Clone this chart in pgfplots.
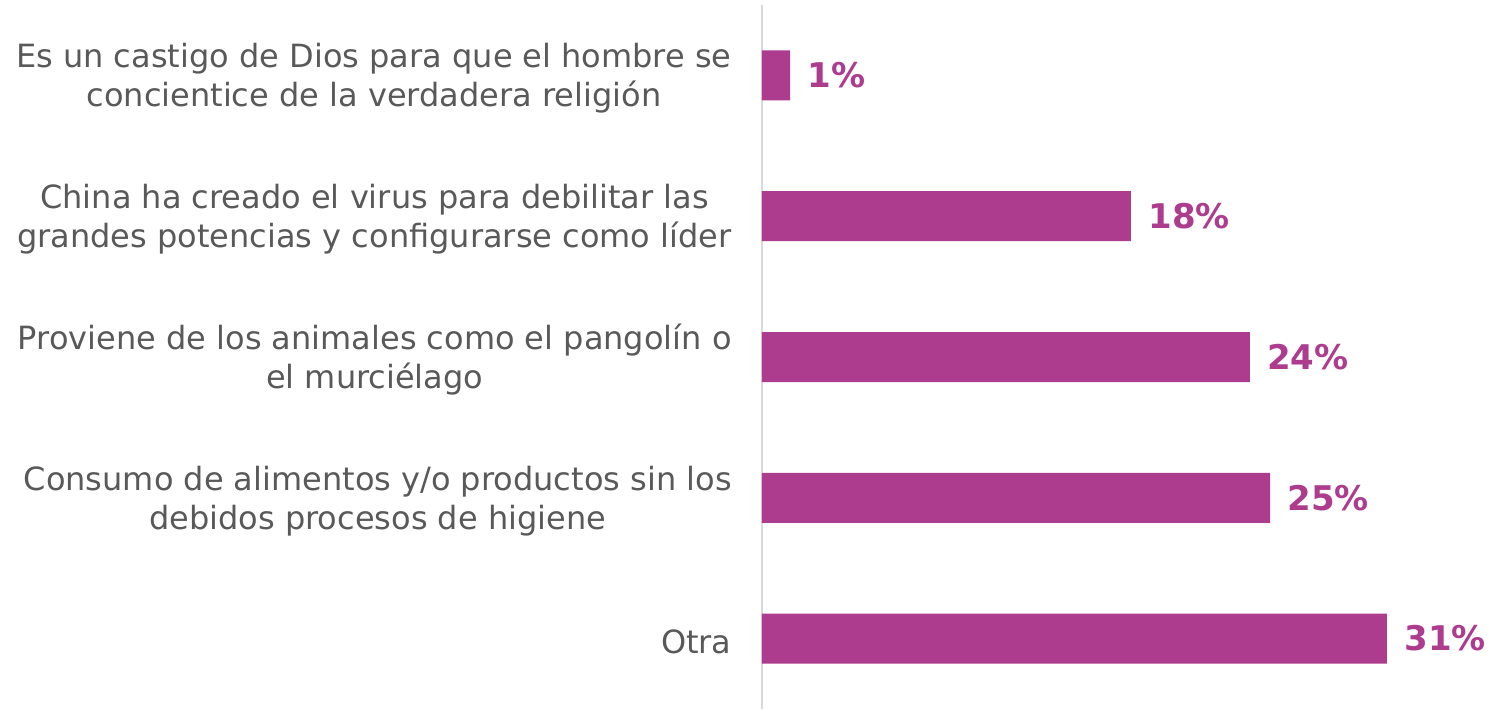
\documentclass[border=0pt]{standalone}
\usepackage{fontspec}
\setmainfont{DejaVu Sans}
\usepackage{pgfplots}
\pgfplotsset{compat=1.18}
\definecolor{barpink}{HTML}{AD3C8E}
\definecolor{labelgray}{HTML}{595959}
\definecolor{axisgray}{HTML}{D9D9D9}

\begin{document}
\begin{tikzpicture}
\begin{axis}[
    name=ax,
    scale only axis,
    width=312.5pt, height=352pt,
    xbar, bar width=25pt,
    xmin=0, xmax=31,
    ymin=-0.5, ymax=4.5,
    y dir=reverse,
    axis x line=none,
    axis y line*=left,
    y axis line style={draw=axisgray, line width=1pt, -},
    ytick={0,1,2,3,4},
    yticklabels={
        {Es un castigo de Dios para que el hombre se\\concientice de la verdadera religión},
        {China ha creado el virus para debilitar las\\grandes potencias y configurarse como líder},
        {Proviene de los animales como el pangolín o\\el murciélago},
        {Consumo de alimentos y/o productos sin los\\debidos procesos de higiene},
        {Otra}},
    yticklabel style={align=center, font=\fontsize{16}{19.5}\selectfont,
        text=labelgray, anchor=east, inner sep=0pt, xshift=-15pt, yshift=-1.5pt},
    major tick length=0pt,
    clip=false,
    point meta=explicit symbolic,
    nodes near coords={\pgfplotspointmeta\%},
    nodes near coords style={font=\bfseries\fontsize{17}{18}\selectfont,
        text=barpink, anchor=west, inner sep=0pt, xshift=8.5pt},
]
% bar lengths as drawn, labels as printed
\addplot[fill=barpink, draw=none] coordinates {
    (1.4,0) [1] (18.3,1) [18] (24.2,2) [24] (25.2,3) [25] (31,4) [31]
};
\end{axis}
\path ([xshift=-381pt]ax.south west) rectangle ([xshift=53pt,yshift=2.5pt]ax.north east);
\end{tikzpicture}
\end{document}
